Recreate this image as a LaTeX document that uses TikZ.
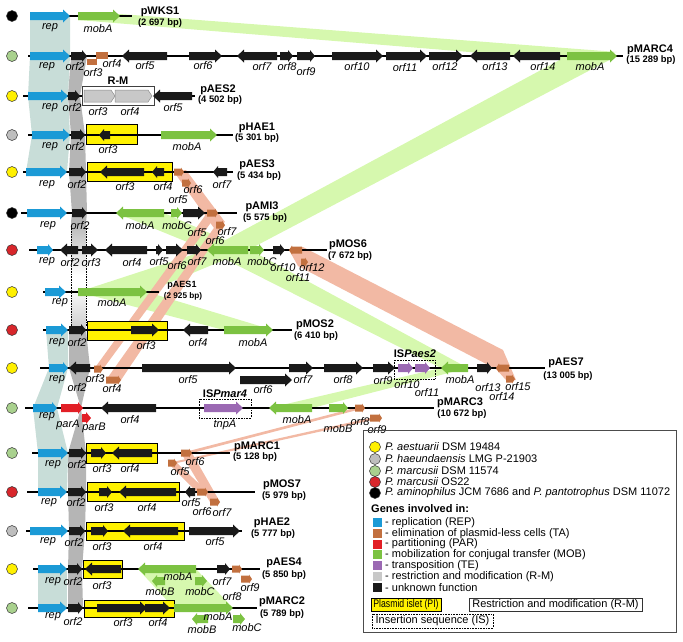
\documentclass[tikz,border=0pt]{standalone}
\usepackage{fontspec}
\setmainfont{Liberation Sans}
\definecolor{repc}{HTML}{1B9AD6}
\definecolor{mobc}{HTML}{7CC242}
\definecolor{tac}{HTML}{C2703F}
\definecolor{parc}{HTML}{E21F26}
\definecolor{tec}{HTML}{9B69B3}
\definecolor{unk}{HTML}{1A1A1A}
\definecolor{rmc}{HTML}{C8C8C8}
\definecolor{pic}{HTML}{FFF200}
\definecolor{cyel}{HTML}{FFF000}
\definecolor{cgry}{HTML}{BEBEBE}
\definecolor{cgrn}{HTML}{A9D18E}
\definecolor{cred}{HTML}{D8262B}
\definecolor{bteal}{HTML}{C8DDD8}
\definecolor{bgray}{HTML}{B5B5B5}
\definecolor{bgrn}{HTML}{D6F8AE}
\definecolor{bsal}{HTML}{F2B9A4}
% gene: x1 x2 y dir headlen bodyhalf headhalf style
\newcommand\gene[8]{%
 \ifx f#4%
  \fill[#8] (#1,#3-#6) -- ({#2-#5},#3-#6) -- ({#2-#5},#3-#7) -- (#2,#3) -- ({#2-#5},#3+#7) -- ({#2-#5},#3+#6) -- (#1,#3+#6) -- cycle;
 \else
  \fill[#8] (#2,#3-#6) -- ({#1+#5},#3-#6) -- ({#1+#5},#3-#7) -- (#1,#3) -- ({#1+#5},#3+#7) -- ({#1+#5},#3+#6) -- (#2,#3+#6) -- cycle;
 \fi}
\newcommand\gF[4]{\gene{#1}{#2}{#3}{f}{7}{4}{6.5}{#4}}
\newcommand\gR[4]{\gene{#1}{#2}{#3}{r}{7}{4}{6.5}{#4}}
\newcommand\hF[4]{\gene{#1}{#2}{#3}{f}{5}{4}{6}{#4}}
\newcommand\hR[4]{\gene{#1}{#2}{#3}{r}{5}{4}{6}{#4}}
\newcommand\sF[3]{\gene{#1}{#2}{#3}{f}{3}{3.5}{4.5}{tac}}
\newcommand\sR[3]{\gene{#1}{#2}{#3}{r}{3}{3.5}{4.5}{tac}}
\newcommand\gl[3]{\node[gl] at (#1,#2) {#3};}
\newcommand\pl[6]{\node[pn] at (#1,#2) {#3}; \node[bp] at (#4,#5) {#6};}
\newcommand\bbone[3]{\draw[bb] (#1,#3) -- (#2,#3);}
\newcommand\pdot[3]{\filldraw[fill=#3, draw=black!80, line width=0.5pt] (#1,#2) circle (5.5);}
\newcommand\pibox[4]{\draw[fill=pic, line width=0.8pt] (#1,#2) rectangle (#3,#4);}
\begin{document}
\begin{tikzpicture}[x=1pt,y=-1pt,
 gl/.style={font=\fontsize{11}{12}\selectfont\itshape, inner sep=0pt},
 pn/.style={font=\fontsize{11}{12}\selectfont\bfseries, inner sep=0pt},
 bp/.style={font=\fontsize{9.4}{10}\selectfont\bfseries, inner sep=0pt},
 lg/.style={font=\fontsize{11}{12}\selectfont, inner sep=0pt, anchor=west},
 bb/.style={line width=1.3pt, black}]
\useasboundingbox (0,0) rectangle (683,641);
% ---------------- bands ----------------
\fill[bteal] (30,16) -- (70,16) -- (70,56) -- (68,96) -- (70,135) -- (67,172) -- (26,172) -- (32,135) -- (28,96) -- (30,56) -- cycle;
\fill[bteal] (46,330) -- (68,330) -- (68,368) -- (57,408) -- (68,453) -- (67,492) -- (38,492) -- (38,453) -- (33,408) -- (49,368) -- cycle;
\fill[bteal] (38,569) -- (67,569) -- (67,608) -- (38,608) -- cycle;
\fill[bgray] (71,56) -- (87,56) -- (80,96) -- (85,135) -- (86,172) -- (87,213) -- (86,222) -- (71,222) -- (72,213) -- (69,172) -- (71,135) -- (68,96) -- cycle;
\shade[top color=bgray, bottom color=white] (71,221) rectangle (86,275);
\shade[top color=white, bottom color=bgray!70] (71,285) rectangle (86,331);
\fill[bgray] (69,330) -- (86,330) -- (90,368) -- (81,408) -- (86,453) -- (86,492) -- (85,531) -- (82,569) -- (83,608) -- (68,608) -- (68,569) -- (69,531) -- (68,492) -- (68,453) -- (81,408) -- (69,368) -- cycle;
\draw[densely dotted, line width=0.6pt] (71,226) -- (71,326) (86,226) -- (86,326);
% green
\fill[bgrn] (78,20) -- (120,14) -- (617,52) -- (567,60) -- cycle;
\fill[bgrn] (567,56) -- (617,56) -- (248,250) -- (207,250) -- cycle;
\fill[bgrn] (116,213) -- (164,213) -- (248,250) -- (207,250) -- cycle;
\fill[bgrn] (207,250) -- (250,250) -- (468,368) -- (441,368) -- cycle;
\fill[bgrn] (207,250) -- (248,250) -- (147,292) -- (78,292) -- cycle;
\fill[bgrn] (78,292) -- (147,292) -- (273,330) -- (224,330) -- cycle;
\fill[bgrn] (269,408) -- (312,408) -- (468,368) -- (441,368) -- cycle;
\fill[bgrn] (138,569) -- (196,569) -- (233,608) -- (174,608) -- cycle;
% salmon
\fill[bsal] (174,172) -- (186,170) -- (225,222) -- (214,228) -- cycle;
\fill[bsal] (94,369) -- (103,369) -- (218,213) -- (207,213) -- cycle;
\fill[bsal] (106,380) -- (121,380) -- (225,225) -- (216,225) -- cycle;
\fill[bsal] (289,250) -- (303,247) -- (503,350) -- (516,380) -- (506,380) -- (496,369) -- (298,266) -- cycle;
\fill[bsal] (355,408) -- (365,408) -- (192,453) -- (181,453) -- cycle;
\fill[bsal] (370,418) -- (382,418) -- (177,463) -- (168,463) -- cycle;
\fill[bsal] (181,453) -- (192,453) -- (220,502) -- (210,502) -- cycle;
\fill[bsal] (168,463) -- (177,463) -- (208,492) -- (197,492) -- cycle;
% ---------------- boxes ----------------
\pibox{86}{124}{137}{144}
\pibox{87}{162}{172}{181}
\pibox{87}{321}{167}{340}
\pibox{86}{443}{157}{463}
\pibox{87}{482}{179}{501}
\pibox{86}{522}{184}{540}
\pibox{83}{560}{122}{578}
\pibox{84}{600}{174}{617}
% ---------------- backbones ----------------
\bbone{30}{132}{16}
\bbone{28}{623}{56}
\bbone{23}{195}{96}
\bbone{28}{233}{135}
\bbone{23}{233}{172}
\bbone{21}{237}{213}
\bbone{29}{327}{250}
\bbone{43}{159}{292}
\bbone{43}{292}{330}
\bbone{40}{545}{368}
\bbone{25}{434}{408}
\bbone{32}{230}{453}
\bbone{27}{255}{492}
\bbone{26}{242}{531}
\bbone{33}{260}{569}
\bbone{28}{257}{608}
% ---------------- circles ----------------
\pdot{12}{16}{black}
\pdot{12}{56}{cgrn}
\pdot{12}{96}{cyel}
\pdot{12}{135}{cgry}
\pdot{12}{172}{cyel}
\pdot{12}{213}{black}
\pdot{12}{250}{cred}
\pdot{12}{292}{cyel}
\pdot{12}{330}{cred}
\pdot{12}{368}{cyel}
\pdot{12}{408}{cgrn}
\pdot{12}{453}{cgrn}
\pdot{12}{492}{cred}
\pdot{12}{531}{cgry}
\pdot{12}{569}{cyel}
\pdot{12}{608}{cgrn}
% ---------------- genes ----------------
% pWKS1
\gF{30}{70}{16}{repc} \gF{78}{120}{16}{mobc}
% pMARC4
\gF{30}{70}{56}{repc} \hF{71}{87}{56}{unk}
\fill[tac] (87,59) rectangle (97,65); \fill[tac] (96,51.5) rectangle (108,58.5);
\gR{122}{167}{56}{unk} \gF{189}{222}{56}{unk} \gR{237}{277}{56}{unk}
\hF{280}{293}{56}{unk} \hF{297}{315}{56}{unk} \gF{332}{383}{56}{unk}
\gF{386}{427}{56}{unk} \gF{429}{463}{56}{unk} \gR{470}{510}{56}{unk}
\gR{513}{560}{56}{unk} \gF{567}{617}{56}{mobc}
% pAES2
\gF{28}{68}{96}{repc} \hF{68}{80}{96}{unk}
\draw[fill=white, draw=black!75, line width=0.9pt] (82,86) rectangle (154,105);
\gene{84}{115}{96}{f}{4}{6}{6}{fill=rmc, draw=black!45, line width=0.5pt}
\gene{115}{152}{96}{f}{4}{6}{6}{fill=rmc, draw=black!45, line width=0.5pt}
\gR{153}{192}{96}{unk}
% pHAE1
\gF{32}{70}{135}{repc} \hF{71}{85}{135}{unk} \hR{99}{110}{135}{unk} \gF{161}{217}{135}{mobc}
% pAES3
\gF{26}{67}{172}{repc} \hF{69}{86}{172}{unk} \gR{100}{144}{172}{unk} \hR{152}{164}{172}{unk}
\sF{174}{184}{172} \sF{182}{191}{183} \hR{213}{227}{172}{unk}
% pAMI3
\gF{27}{67}{213}{repc} \hF{72}{87}{213}{unk} \gR{116}{164}{213}{mobc} \hF{171}{182}{213}{mobc}
\gF{183}{205}{213}{unk} \sF{207}{218}{213} \sF{216}{225}{225}
% pMOS6
\hF{37}{53}{250}{repc} \gR{60}{78}{250}{unk} \gF{82}{98}{250}{unk} \gR{105}{147}{250}{unk}
\hF{156}{163}{250}{unk} \gF{166}{183}{250}{unk} \hF{187}{201}{250}{unk} \gR{207}{248}{250}{mobc}
\hF{250}{264}{250}{mobc} \hF{273}{285}{250}{unk} \sR{289}{302}{250} \sF{301}{308}{262}
% pAES1
\gF{45}{66}{292}{repc} \gF{78}{147}{292}{mobc}
% pMOS2
\gF{46}{68}{330}{repc} \hF{69}{86}{330}{unk} \gF{131}{159}{330}{unk} \gR{183}{208}{330}{unk} \gF{224}{273}{330}{mobc}
% pAES7
\hF{49}{68}{368}{repc} \gR{69}{90}{368}{unk} \sF{94}{103}{369} \sF{106}{121}{380}
\gF{142}{236}{368}{unk} \gF{240}{292}{380}{unk} \gF{289}{313}{368}{unk} \gF{324}{363}{368}{unk}
\gF{373}{395}{368}{unk}
\draw[densely dotted, line width=0.6pt] (394,360) rectangle (435,379);
\hF{398}{413}{368}{tec} \hF{415}{430}{368}{tec}
\gR{441}{468}{368}{mobc} \hF{477}{492}{368}{unk} \sR{496}{509}{368} \sF{506}{515}{379}
% pMARC3
\hF{33}{57}{408}{repc} \hF{61}{83}{408}{parc} \hF{82}{91}{418}{parc} \gR{101}{156}{408}{unk}
\draw[densely dotted, line width=0.6pt] (199,399) rectangle (251,418);
\gF{204}{243}{408}{tec} \gR{269}{312}{408}{mobc} \hF{329}{348}{408}{mobc}
\sF{355}{365}{408} \sF{370}{382}{418}
% pMARC1
\gF{38}{68}{453}{repc} \hF{69}{86}{453}{unk} \hF{91}{106}{453}{unk} \gR{112}{152}{453}{unk}
\sF{181}{192}{453} \sF{168}{177}{463}
% pMOS7
\gF{38}{67}{492}{repc} \hF{68}{86}{492}{unk} \hF{99}{112}{492}{unk} \gR{119}{176}{492}{unk}
\hR{185}{195}{492}{unk} \sF{197}{208}{492} \sF{210}{220}{502}
% pHAE2
\gF{30}{68}{531}{repc} \hF{69}{85}{531}{unk} \hF{91}{108}{531}{unk} \gR{123}{178}{531}{unk} \gF{189}{240}{531}{unk}
% pAES4
\gF{38}{67}{569}{repc} \hF{68}{82}{569}{unk} \gR{85}{121}{569}{unk} \gR{138}{196}{569}{mobc}
\hR{152}{165}{581}{mobc} \hF{195}{207}{581}{mobc} \hF{217}{230}{569}{unk}
\sF{232}{242}{569} \sF{241}{252}{579}
% pMARC2
\gF{38}{67}{608}{repc} \hF{68}{83}{608}{unk} \gF{97}{147}{608}{unk} \gF{145}{170}{608}{unk}
\gF{174}{233}{608}{mobc} \hR{192}{208}{619}{mobc} \hF{233}{245}{619}{mobc}
% ---------------- labels ----------------
\gl{50}{28}{rep} \gl{98}{29}{mobA} \pl{160}{12}{pWKS1}{160}{23}{(2 697 bp)}
\gl{47}{67}{rep} \gl{75}{67}{orf2} \gl{93}{73}{orf3} \gl{112}{64}{orf4} \gl{145}{66}{orf5}
\gl{203}{66}{orf6} \gl{262}{67}{orf7} \gl{287}{67}{orf8} \gl{306}{72}{orf9} \gl{357}{67}{orf10}
\gl{405}{68}{orf11} \gl{445}{67}{orf12} \gl{495}{67}{orf13} \gl{543}{67}{orf14} \gl{590}{67}{mobA}
\pl{650}{50}{pMARC4}{651}{60}{(15 289 bp)}
\gl{50}{108}{rep} \gl{72}{108}{orf2} \gl{98}{112}{orf3} \gl{130}{112}{orf4} \gl{173}{108}{orf5}
\node[pn] at (118,81) {R-M};
\pl{218}{90}{pAES2}{220}{100}{(4 502 bp)}
\gl{50}{147}{rep} \gl{75}{147}{orf2} \gl{108}{150}{orf3} \gl{187}{147}{mobA}
\pl{257}{128}{pHAE1}{257}{138}{(5 301 bp)}
\gl{47}{185}{rep} \gl{77}{185}{orf2} \gl{125}{187}{orf3} \gl{163}{187}{orf4} \gl{193}{190}{orf6}
\gl{178}{200}{orf5} \gl{222}{185}{orf7}
\pl{257}{165}{pAES3}{259}{176}{(5 434 bp)}
\gl{48}{226}{rep} \gl{80}{226}{orf2} \gl{140}{226}{mobA} \gl{177}{226}{mobC} \gl{197}{233}{orf5}
\gl{227}{232}{orf7} \gl{215}{241}{orf6}
\pl{262}{207}{pAMI3}{265}{218}{(5 575 bp)}
\gl{47}{262}{rep} \gl{70}{263}{orf2} \gl{91}{263}{orf3} \gl{132}{263}{orf4} \gl{159}{262}{orf5}
\gl{177}{266}{orf6} \gl{197}{262}{orf7} \gl{227}{262}{mobA} \gl{262}{262}{mobC} \gl{283}{268}{orf10}
\gl{312}{268}{orf12} \gl{298}{278}{orf11}
\pl{348}{245}{pMOS6}{350}{256}{(7 672 bp)}
\gl{60}{303}{rep} \gl{112}{303}{mobA}
\node[pn, font=\fontsize{9}{10}\selectfont\bfseries] at (182,285) {pAES1};
\node[bp, font=\fontsize{8.2}{9}\selectfont\bfseries] at (183,296) {(2 925 bp)};
\gl{57}{343}{rep} \gl{77}{343}{orf2} \gl{146}{346}{orf3} \gl{198}{343}{orf4} \gl{253}{343}{mobA}
\pl{315}{325}{pMOS2}{316}{336}{(6 410 bp)}
\gl{57}{380}{rep} \gl{77}{388}{orf2} \gl{95}{379}{orf3} \gl{112}{389}{orf4} \gl{188}{380}{orf5}
\gl{263}{390}{orf6} \gl{303}{380}{orf7} \gl{343}{380}{orf8} \gl{383}{381}{orf9} \gl{407}{385}{orf10}
\gl{427}{393}{orf11} \gl{460}{380}{mobA} \gl{488}{388}{orf13} \gl{502}{397}{orf14} \gl{518}{387}{orf15}
\node[pn] at (415,354) {IS\textit{Paes2}};
\pl{566}{363}{pAES7}{568}{376}{(13 005 bp)}
\gl{47}{417}{rep} \gl{68}{425}{parA} \gl{94}{428}{parB} \gl{130}{420}{orf4} \gl{225}{425}{tnpA}
\gl{297}{420}{mobA} \gl{338}{429}{mobB} \gl{360}{422}{orf8} \gl{377}{430}{orf9}
\node[pn] at (225,394) {IS\textit{Pmar4}};
\pl{460}{403}{pMARC3}{462}{414}{(10 672 bp)}
\gl{53}{465}{rep} \gl{77}{465}{orf2} \gl{102}{469}{orf3} \gl{130}{469}{orf4} \gl{195}{462}{orf6}
\gl{180}{472}{orf5}
\pl{257}{447}{pMARC1}{255}{457}{(5 128 bp)}
\gl{49}{503}{rep} \gl{76}{503}{orf2} \gl{104}{508}{orf3} \gl{147}{508}{orf4} \gl{191}{503}{orf5}
\gl{202}{512}{orf6} \gl{222}{513}{orf7}
\pl{282}{485}{pMOS7}{284}{496}{(5 979 bp)}
\gl{48}{542}{rep} \gl{74}{543}{orf2} \gl{102}{547}{orf3} \gl{153}{547}{orf4} \gl{215}{542}{orf5}
\pl{272}{523}{pHAE2}{273}{534}{(5 777 bp)}
\gl{53}{582}{rep} \gl{73}{582}{orf2} \gl{102}{586}{orf3} \gl{178}{577}{mobA} \gl{160}{592}{mobB}
\gl{200}{592}{mobC} \gl{222}{582}{orf7} \gl{232}{597}{orf8} \gl{250}{588}{orf9}
\pl{284}{563}{pAES4}{284}{575}{(5 850 bp)}
\gl{53}{617}{rep} \gl{73}{622}{orf2} \gl{123}{623}{orf3} \gl{158}{623}{orf4} \gl{218}{617}{mobA}
\gl{202}{630}{mobB} \gl{247}{628}{mobC}
\pl{282}{602}{pMARC2}{282}{614}{(5 789 bp)}
% ---------------- legend ----------------
\draw[draw=black!70, line width=0.9pt] (363,430) rectangle (676,632);
\pdot{375}{447}{cyel} \node[lg] at (385,447) {\textit{P. aestuarii} DSM 19484};
\pdot{375}{459}{cgry} \node[lg] at (385,459) {\textit{P. haeundaensis} LMG P-21903};
\pdot{375}{471}{cgrn} \node[lg] at (385,471) {\textit{P. marcusii} DSM 11574};
\pdot{375}{482}{cred} \node[lg] at (385,482) {\textit{P. marcusii} OS22};
\pdot{375}{493}{black} \node[lg] at (385,493) {\textit{P. aminophilus} JCM 7686 and \textit{P. pantotrophus} DSM 11072};
\node[lg, font=\fontsize{11}{12}\selectfont\bfseries] at (371,509) {Genes involved in:};
\fill[repc] (373,518) rectangle (382,527); \node[lg] at (385,522.5) {- replication (REP)};
\fill[tac] (373,528.8) rectangle (382,537.8); \node[lg] at (385,533.3) {- elimination of plasmid-less cells (TA)};
\fill[parc] (373,539.6) rectangle (382,548.6); \node[lg] at (385,544.1) {- partitioning (PAR)};
\fill[mobc] (373,550.4) rectangle (382,559.4); \node[lg] at (385,554.9) {- mobilization for conjugal transfer (MOB)};
\fill[tec] (373,561.2) rectangle (382,570.2); \node[lg] at (385,565.7) {- transposition (TE)};
\fill[rmc] (373,572) rectangle (382,581); \node[lg] at (385,576.5) {- restriction and modification (R-M)};
\fill[unk] (373,582.8) rectangle (382,591.8); \node[lg] at (385,587.3) {- unknown function};
\draw[fill=pic, line width=0.8pt] (371,598) rectangle (441,611);
\node[lg, anchor=center] at (406,604.7) {\scalebox{0.79}[1]{Plasmid islet (PI)}};
\draw[draw=black!80, line width=0.9pt] (469,598.5) rectangle (642,611);
\node[lg, anchor=center] at (555.5,604.8) {Restriction and modification (R-M)};
\draw[densely dotted, line width=0.6pt] (372,614) rectangle (493,628);
\node[lg, anchor=center] at (432.5,621) {Insertion sequence (IS)};
\end{tikzpicture}
\end{document}
